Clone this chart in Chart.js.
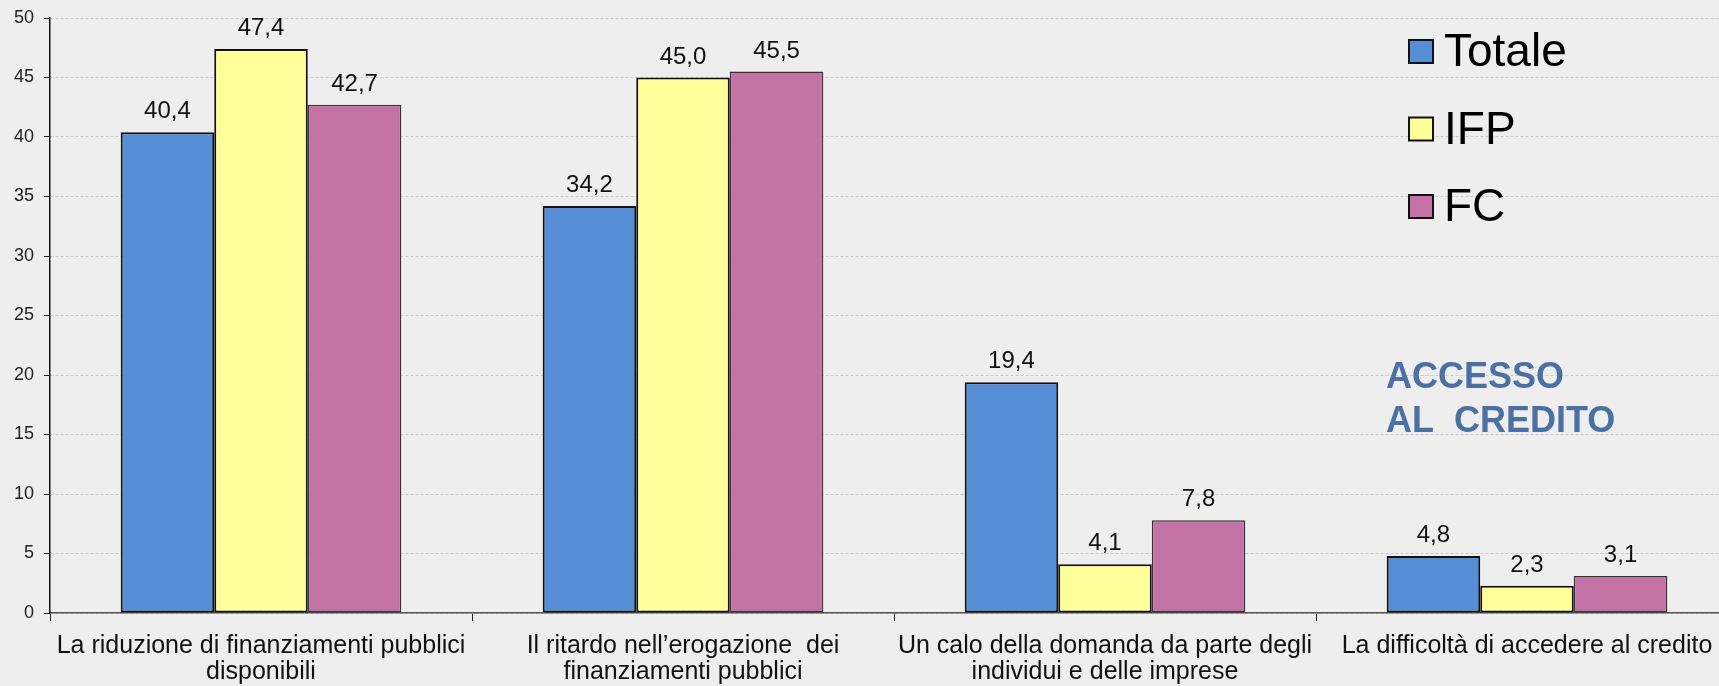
<!DOCTYPE html>
<html>
<head>
<meta charset="utf-8">
<script src="https://cdn.jsdelivr.net/npm/chart.js@4.4.1/dist/chart.umd.min.js"></script>
<style>
  html, body { margin: 0; padding: 0; background: #eeeeee; overflow: hidden; }
  #wrap { width: 1740px; height: 686px; }
</style>
</head>
<body>
<div id="wrap"><canvas id="chart" width="1740" height="686"></canvas></div>
<script>
// ===== Data =====
const categories = [
  ['La riduzione di finanziamenti pubblici', 'disponibili'],
  ['Il ritardo nell\u2019erogazione  dei', 'finanziamenti pubblici'],
  ['Un calo della domanda da parte degli', 'individui e delle imprese'],
  'La difficolt\u00e0 di accedere al credito'
];
const seriesNames = ['Totale', 'IFP', 'FC'];
const totale = [40.4, 34.2, 19.4, 4.8];
const ifp = [47.4, 45.0, 4.1, 2.3];
const fc = [42.7, 45.5, 7.8, 3.1];
const yTicks = [0, 5, 10, 15, 20, 25, 30, 35, 40, 45, 50];
const noteLines = ['ACCESSO', 'AL  CREDITO'];

const fills = ['#558ed5', '#ffff99', '#c471a5'];
const borders = ['#111111', '#111111', '#333333'];
const borderW = [2, 2, 1.5];

// value labels above the bars, italian decimal comma
const valueLabels = {
  id: 'valueLabels',
  afterDatasetsDraw(chart) {
    const ctx = chart.ctx;
    ctx.save();
    ctx.font = '24px "Liberation Sans", Arial, sans-serif';
    ctx.fillStyle = '#111';
    ctx.textAlign = 'center';
    ctx.textBaseline = 'alphabetic';
    chart.data.datasets.forEach((ds, i) => {
      chart.getDatasetMeta(i).data.forEach((bar, j) => {
        ctx.fillText(ds.data[j].toFixed(1).replace('.', ','), bar.x, bar.y - 14);
      });
    });
    ctx.restore();
  }
};

// big legend inside the plot + the note text
const sideLegend = {
  id: 'sideLegend',
  afterDraw(chart) {
    const ctx = chart.ctx;
    ctx.save();
    ctx.font = '46px "Liberation Sans", Arial, sans-serif';
    ctx.textBaseline = 'alphabetic';
    ctx.textAlign = 'left';
    chart.data.datasets.forEach((ds, i) => {
      const base = 66 + i * 77.5;
      ctx.fillStyle = ds.backgroundColor;
      ctx.fillRect(1409, base - 26, 24, 23);
      ctx.lineWidth = 2;
      ctx.strokeStyle = '#111';
      ctx.strokeRect(1409, base - 26, 24, 23);
      ctx.fillStyle = '#000';
      ctx.fillText(ds.label, 1444, base);
    });
    ctx.font = 'bold 36px "Liberation Sans", Arial, sans-serif';
    ctx.fillStyle = '#4a70a4';
    noteLines.forEach((t, i) => ctx.fillText(t, 1386, 388 + i * 44));
    ctx.restore();
  }
};

new Chart(document.getElementById('chart'), {
  type: 'bar',
  data: {
    labels: categories,
    datasets: [totale, ifp, fc].map((d, i) => ({
      label: seriesNames[i],
      data: d,
      backgroundColor: fills[i],
      borderColor: borders[i],
      borderWidth: borderW[i],
      borderSkipped: false,
      barPercentage: 1,
      categoryPercentage: 0.665
    }))
  },
  options: {
    responsive: false,
    animation: false,
    layout: { padding: { top: 18, right: 2, left: 0, bottom: 0 } },
    plugins: { legend: { display: false }, tooltip: { enabled: false } },
    scales: {
      x: {
        afterFit: s => { s.height = 73; },
        grid: { drawOnChartArea: false, drawTicks: true, tickLength: 8, tickColor: '#222', offset: true },
        border: { color: '#555', width: 1.5 },
        ticks: {
          color: '#111',
          padding: 12,
          maxRotation: 0,
          autoSkip: false,
          font: { family: '"Liberation Sans", Arial, sans-serif', size: 25, lineHeight: 1.05 }
        }
      },
      y: {
        min: 0,
        max: 50,
        afterFit: s => { s.width = 50; },
        afterBuildTicks: s => { s.ticks = yTicks.map(v => ({ value: v })); },
        grid: { color: '#c8c8c8', lineWidth: 1, tickLength: 6, tickColor: '#222', drawTicks: true },
        border: { color: '#111', width: 1.5, dash: [3, 2] },
        ticks: {
          color: '#222',
          padding: 10,
          font: { family: '"Liberation Sans", Arial, sans-serif', size: 18, lineHeight: 0.8 }
        }
      }
    }
  },
  plugins: [valueLabels, sideLegend]
});
</script>
</body>
</html>
